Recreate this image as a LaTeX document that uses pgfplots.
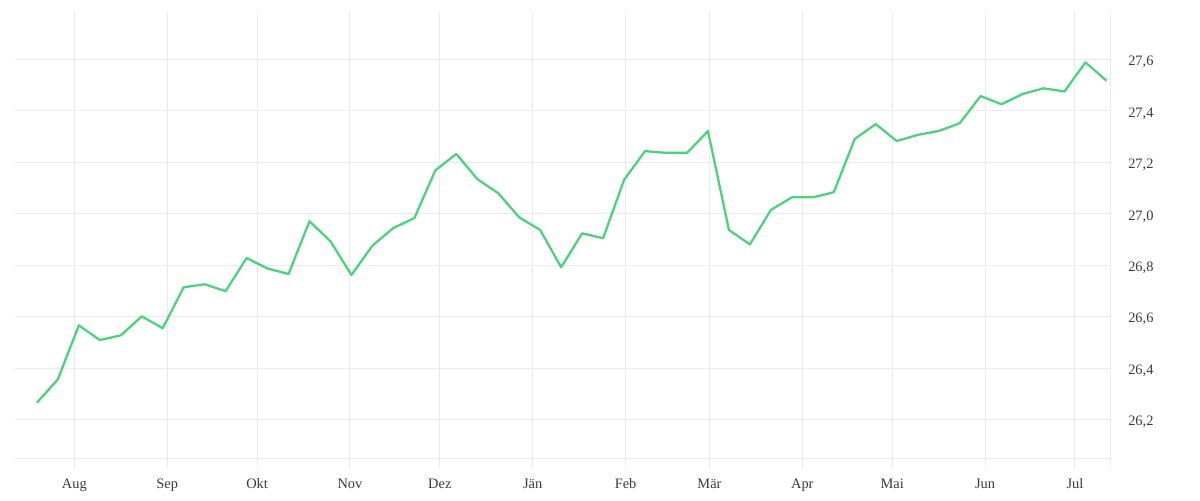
\documentclass[border=0pt]{standalone}
\usepackage{fontspec}
\setmainfont{Liberation Serif}
\usepackage{pgfplots}
\pgfplotsset{compat=1.18}
\definecolor{linegreen}{HTML}{4CD27A}
\definecolor{gridgray}{HTML}{EBEBEB}
\definecolor{labelgray}{HTML}{3A3A3A}

% weekly values, x = days after 1 Aug
\pgfplotstableread{
day    val
-12.5  26.265
-5.5   26.356
1.5    26.566
8.5    26.509
15.5   26.527
22.5   26.601
29.5   26.555
36.5   26.714
43.5   26.726
50.5   26.699
57.5   26.828
64.5   26.787
71.5   26.766
78.5   26.971
85.5   26.893
92.5   26.762
99.5   26.876
106.5  26.945
113.5  26.983
120.5  27.169
127.5  27.233
134.5  27.135
141.5  27.080
148.5  26.986
155.5  26.937
162.5  26.792
169.5  26.924
176.5  26.905
183.5  27.132
190.5  27.244
197.5  27.237
204.5  27.237
211.5  27.322
218.5  26.937
225.5  26.881
232.5  27.015
239.5  27.064
246.5  27.064
253.5  27.084
260.5  27.291
267.5  27.349
274.5  27.283
281.5  27.307
288.5  27.322
295.5  27.352
302.5  27.458
309.5  27.426
316.5  27.466
323.5  27.488
330.5  27.476
337.5  27.589
344.5  27.518
}\weekly

\begin{document}
\begin{tikzpicture}
  \begin{axis}[
      name=ax, at={(11.25pt,31.3pt)}, anchor=south west,
      scale only axis, width=821.25pt, height=334.7pt,
      xmin=-19.8, xmax=345.7,
      ymin=26.049, ymax=27.785,
      axis x line*=bottom, axis y line*=right,
      x axis line style={draw=gridgray, line width=0.75pt, -},
      y axis line style={draw=none},
      xtick={0,31,61,92,122,153,184,212,243,273,304,334},
      xticklabels={Aug,Sep,Okt,Nov,Dez,Jän,Feb,Mär,Apr,Mai,Jun,Jul},
      extra x ticks={345.7}, extra x tick labels={},
      extra x tick style={xmajorgrids=true},
      ytick={26.2,26.4,...,27.61},
      xmajorgrids, ymajorgrids,
      grid style={draw=gridgray, line width=0.75pt},
      tick align=outside, major tick length=7.5pt,
      x tick style={draw=gridgray, line width=0.75pt},
      y tick style={draw=none},
      tick label style={font=\fontsize{10.8}{12}\selectfont, text=labelgray},
      xticklabel style={anchor=base, inner sep=0pt, yshift=-15pt},
      yticklabel style={anchor=west, inner sep=0pt, xshift=6pt, yshift=-2pt},
      /pgf/number format/.cd, assume math mode=true, use comma, fixed, fixed zerofill, precision=1,
    ]
    \addplot[linegreen, line width=1.7pt, line join=round] table[x=day, y=val] {\weekly};
  \end{axis}
  \pgfresetboundingbox
  \useasboundingbox (0,0) rectangle (900pt,375pt);
\end{tikzpicture}
\end{document}
